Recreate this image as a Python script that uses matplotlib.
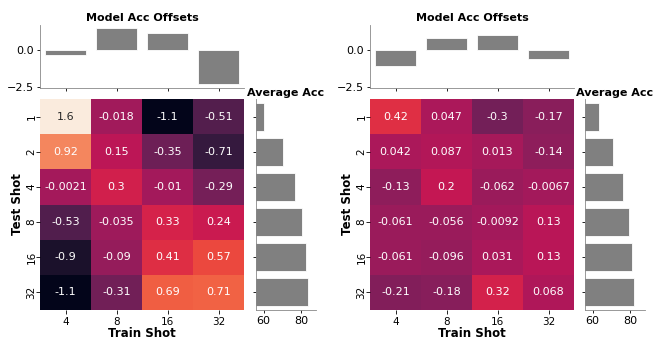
import matplotlib
matplotlib.use("Agg")
import matplotlib.pyplot as plt
import numpy as np
import seaborn as sns

# ----- Data -----
train_shots = ["4", "8", "16", "32"]
test_shots = ["1", "2", "4", "8", "16", "32"]

offsets_left = [
    [1.6, -0.018, -1.1, -0.51],
    [0.92, 0.15, -0.35, -0.71],
    [-0.0021, 0.3, -0.01, -0.29],
    [-0.53, -0.035, 0.33, 0.24],
    [-0.9, -0.09, 0.41, 0.57],
    [-1.1, -0.31, 0.69, 0.71],
]
offsets_right = [
    [0.42, 0.047, -0.3, -0.17],
    [0.042, 0.087, 0.013, -0.14],
    [-0.13, 0.2, -0.062, -0.0067],
    [-0.061, -0.056, -0.0092, 0.13],
    [-0.061, -0.096, 0.031, 0.13],
    [-0.21, -0.18, 0.32, 0.068],
]
model_offsets_left = [-0.35, 1.5, 1.15, -2.3]
model_offsets_right = [-1.09, 0.8, 1.0, -0.63]
avg_acc_left = [60.2, 70.4, 76.8, 80.7, 82.6, 83.8]
avg_acc_right = [63.3, 71.1, 76.4, 79.4, 81.2, 82.0]

vmin = np.min(offsets_left)
vmax = np.max(offsets_left)

W, H = 664, 352
fig = plt.figure(figsize=(W / 100, H / 100), dpi=100)


def box(x0, y0, x1, y1):
    # pixel box (top-left origin) -> figure fraction
    return [x0 / W, 1 - y1 / H, (x1 - x0) / W, (y1 - y0) / H]


def panel(hx0, sx0, offsets, model_off, avg_acc):
    hx1 = hx0 + 204
    ax_h = fig.add_axes(box(hx0, 99, hx1, 310))
    ax_t = fig.add_axes(box(hx0, 25, hx1, 87.7))
    ax_s = fig.add_axes(box(sx0, 99, sx0 + 60, 310))

    sns.heatmap(np.array(offsets), ax=ax_h, cmap="rocket", vmin=vmin, vmax=vmax,
                annot=True, fmt=".2g", cbar=False,
                xticklabels=train_shots, yticklabels=test_shots,
                annot_kws={"fontsize": 8})
    ax_h.set_xlabel("Train Shot", fontsize=8.5, fontweight="bold", labelpad=0)
    ax_h.tick_params(labelsize=7.5, length=3, width=0.6, pad=2)
    ax_h.tick_params(axis="y", pad=-0.5)
    plt.setp(ax_h.get_yticklabels(), rotation=90, rotation_mode="anchor",
             ha="center", va="bottom")
    plt.setp(ax_h.get_xticklabels(), rotation=0)
    ax_h.set_ylabel("Test Shot", fontsize=8.5, fontweight="bold", labelpad=2)

    xpos = np.arange(len(train_shots)) + 0.5
    ax_t.bar(xpos, model_off, width=0.8, color="gray", edgecolor="white", linewidth=0.6)
    ax_t.set_xlim(0, len(train_shots))
    ax_t.set_ylim(-2.57, 1.7)
    ax_t.set_xticks(xpos)
    ax_t.set_xticklabels([])
    ax_t.set_yticks([0.0, -2.5])
    ax_t.set_yticklabels(["0.0", "\u22122.5"])
    ax_t.set_title("Model Acc Offsets", fontsize=8, fontweight="bold", pad=3)
    ax_t.tick_params(labelsize=8, length=2.5, width=0.6, pad=2)

    ypos = np.arange(len(test_shots)) + 0.5
    ax_s.barh(ypos, avg_acc, height=0.8, color="gray", edgecolor="white", linewidth=0.6)
    ax_s.set_ylim(len(test_shots), 0)
    ax_s.set_xlim(56, 88)
    ax_s.set_yticks(ypos)
    ax_s.set_yticklabels([])
    ax_s.set_xticks([60, 80])
    ax_s.set_title("Average Acc", fontsize=8, fontweight="bold", pad=2)
    ax_s.tick_params(labelsize=8, length=2.5, width=0.6, pad=2)

    for a in (ax_t, ax_s):
        for s in ("top", "right"):
            a.spines[s].set_visible(False)
        for s in ("left", "bottom"):
            a.spines[s].set_linewidth(0.6)
            a.spines[s].set_color("#888888")


panel(40, 256, offsets_left, model_offsets_left, avg_acc_left)
panel(370, 585, offsets_right, model_offsets_right, avg_acc_right)

fig.savefig("out.png", dpi=100)
